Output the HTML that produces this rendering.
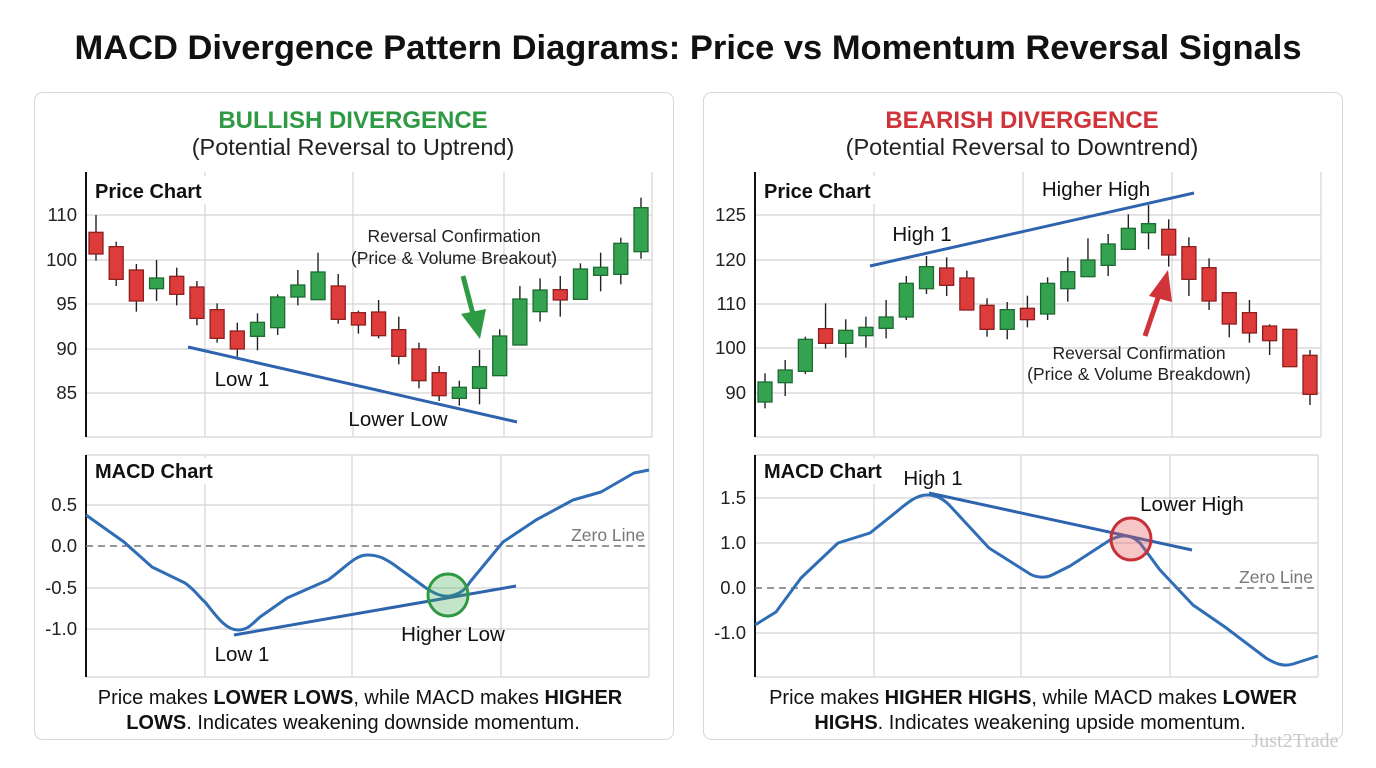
<!DOCTYPE html>
<html><head><meta charset="utf-8"><style>
html,body{margin:0;padding:0;background:#fff;}
svg{display:block;font-family:"Liberation Sans",Arial,sans-serif;}
</style></head><body>
<svg id="s" width="1376" height="768" viewBox="0 0 1376 768" xmlns="http://www.w3.org/2000/svg">
<rect width="1376" height="768" fill="#fff"/>
<text x="688" y="59" text-anchor="middle" font-size="34.5" font-weight="bold" fill="#111">MACD Divergence Pattern Diagrams: Price vs Momentum Reversal Signals</text>
<rect x="34.5" y="92.5" width="639" height="647" rx="8" fill="#fff" stroke="#d8d8d8"/>
<rect x="703.5" y="92.5" width="639" height="647" rx="8" fill="#fff" stroke="#d8d8d8"/>
<text x="353" y="128" text-anchor="middle" font-size="24" font-weight="bold" fill="#2e9a44">BULLISH DIVERGENCE</text>
<text x="353" y="155" text-anchor="middle" font-size="23.5" fill="#222">(Potential Reversal to Uptrend)</text>
<text x="1022" y="128" text-anchor="middle" font-size="24" font-weight="bold" fill="#d0343a">BEARISH DIVERGENCE</text>
<text x="1022" y="155" text-anchor="middle" font-size="23.5" fill="#222">(Potential Reversal to Downtrend)</text>

<g stroke="#d4d4d4" stroke-width="1.2">
<line x1="86" y1="215" x2="652" y2="215"/><line x1="86" y1="260" x2="652" y2="260"/><line x1="86" y1="304" x2="652" y2="304"/><line x1="86" y1="349" x2="652" y2="349"/><line x1="86" y1="393" x2="652" y2="393"/><line x1="86" y1="437" x2="652" y2="437"/>
<line x1="205" y1="172" x2="205" y2="437"/><line x1="353" y1="172" x2="353" y2="437"/><line x1="504" y1="172" x2="504" y2="437"/><line x1="652" y1="172" x2="652" y2="437"/>
<line x1="86" y1="455" x2="649" y2="455"/><line x1="86" y1="505" x2="649" y2="505"/><line x1="86" y1="588" x2="649" y2="588"/><line x1="86" y1="629" x2="649" y2="629"/><line x1="86" y1="677" x2="649" y2="677"/>
<line x1="205" y1="455" x2="205" y2="677"/><line x1="352" y1="455" x2="352" y2="677"/><line x1="501" y1="455" x2="501" y2="677"/><line x1="649" y1="455" x2="649" y2="677"/>
<line x1="755" y1="215" x2="1321" y2="215"/><line x1="755" y1="260" x2="1321" y2="260"/><line x1="755" y1="304" x2="1321" y2="304"/><line x1="755" y1="348" x2="1321" y2="348"/><line x1="755" y1="393" x2="1321" y2="393"/><line x1="755" y1="437" x2="1321" y2="437"/>
<line x1="874" y1="172" x2="874" y2="437"/><line x1="1023" y1="172" x2="1023" y2="437"/><line x1="1172" y1="172" x2="1172" y2="437"/><line x1="1321" y1="172" x2="1321" y2="437"/>
<line x1="755" y1="455" x2="1318" y2="455"/><line x1="755" y1="498" x2="1318" y2="498"/><line x1="755" y1="543" x2="1318" y2="543"/><line x1="755" y1="633" x2="1318" y2="633"/><line x1="755" y1="677" x2="1318" y2="677"/>
<line x1="874" y1="455" x2="874" y2="677"/><line x1="1021" y1="455" x2="1021" y2="677"/><line x1="1170" y1="455" x2="1170" y2="677"/><line x1="1318" y1="455" x2="1318" y2="677"/>
</g>
<g stroke="#111" stroke-width="2">
<line x1="86" y1="172" x2="86" y2="437"/><line x1="86" y1="455" x2="86" y2="677"/>
<line x1="755" y1="172" x2="755" y2="437"/><line x1="755" y1="455" x2="755" y2="677"/>
</g>
<g stroke="#777" stroke-width="1.6" stroke-dasharray="7,5">
<line x1="86" y1="546" x2="649" y2="546"/><line x1="755" y1="588" x2="1318" y2="588"/>
</g>
<g font-size="18.5" fill="#222" text-anchor="end">
<text x="77" y="221">110</text><text x="77" y="266">100</text><text x="77" y="310">95</text><text x="77" y="355">90</text><text x="77" y="399">85</text>
<text x="77" y="511">0.5</text><text x="77" y="552">0.0</text><text x="77" y="594">-0.5</text><text x="77" y="635">-1.0</text>
<text x="746" y="221">125</text><text x="746" y="266">120</text><text x="746" y="310">110</text><text x="746" y="354">100</text><text x="746" y="399">90</text>
<text x="746" y="504">1.5</text><text x="746" y="549">1.0</text><text x="746" y="594">0.0</text><text x="746" y="639">-1.0</text>
</g>
<g font-size="20" fill="#111" font-weight="bold">
<rect x="90" y="176" width="118" height="28" fill="#fff"/>
<text x="95" y="198">Price Chart</text>
<rect x="90" y="458" width="128" height="26" fill="#fff"/>
<text x="95" y="478">MACD Chart</text>
<rect x="759" y="176" width="118" height="28" fill="#fff"/>
<text x="764" y="198">Price Chart</text>
<rect x="759" y="458" width="128" height="26" fill="#fff"/>
<text x="764" y="478">MACD Chart</text>
</g>
<g id="cl"></g><g id="cr"></g>

<line x1="188" y1="347" x2="517" y2="422" stroke="#2f63ad" stroke-width="3"/>
<line x1="870" y1="266" x2="1194" y2="193" stroke="#2f63ad" stroke-width="3"/>
<g font-size="20.5" fill="#111" text-anchor="middle">
<text x="242" y="386">Low 1</text><text x="398" y="426">Lower Low</text>
<text x="922" y="241">High 1</text><text x="1096" y="196">Higher High</text>
<text x="242" y="661">Low 1</text><text x="453" y="641">Higher Low</text>
<text x="933" y="485">High 1</text><text x="1192" y="511">Lower High</text>
</g>
<g font-size="17.5" fill="#222" text-anchor="middle">
<text x="454" y="242">Reversal Confirmation</text><text x="454" y="264">(Price &amp; Volume Breakout)</text>
<text x="1139" y="359">Reversal Confirmation</text><text x="1139" y="380">(Price &amp; Volume Breakdown)</text>
</g>
<text x="645" y="541" font-size="17.5" fill="#777" text-anchor="end">Zero Line</text>
<text x="1313" y="583" font-size="17.5" fill="#777" text-anchor="end">Zero Line</text>
<line x1="463" y1="276" x2="474" y2="318" stroke="#2e9a44" stroke-width="5"/>
<polygon points="461,314 486,309 480,339" fill="#2e9a44"/>
<line x1="1145" y1="336" x2="1160" y2="292" stroke="#d0343a" stroke-width="5"/>
<polygon points="1149,296 1172,302 1168,270" fill="#d0343a"/>

<path d="M86,515 L124,542 L152,567 L185,583 C195,590 200,598 205,602 C215,614 225,630 238,630 C248,630 252,624 260,617 L287,598 L328,580 C345,568 355,555 367,555 C378,555 384,558 393,564 L426,588 C435,594 442,597 450,596 C460,594 465,590 470,582 L503,542 L536,520 L573,500 L601,492 L634,473 L649,470" fill="none" stroke="#2f6db5" stroke-width="3" stroke-linejoin="round"/>
<line x1="234" y1="635" x2="516" y2="586" stroke="#2f63ad" stroke-width="3"/>
<ellipse cx="448" cy="595" rx="20" ry="21" fill="rgba(60,170,80,0.3)" stroke="#2e9a44" stroke-width="3"/>

<path d="M755,625 L776,612 L801,578 L838,543 L870,533 L895,513 C905,505 915,495 927,495 C937,495 944,499 952,508 L989,548 L1030,574 C1037,578 1046,578 1052,575 L1070,566 L1110,540 C1120,535 1130,533 1140,543 L1160,570 L1193,605 L1225,627 L1266,658 C1276,664 1284,667 1293,664 L1318,656" fill="none" stroke="#2f6db5" stroke-width="3" stroke-linejoin="round"/>
<line x1="929" y1="493" x2="1192" y2="550" stroke="#2f63ad" stroke-width="3"/>
<ellipse cx="1131" cy="539" rx="20" ry="21" fill="rgba(230,90,90,0.35)" stroke="#c83038" stroke-width="3"/>

<g font-size="20" fill="#111" text-anchor="middle">
<text x="360" y="704">Price makes <tspan font-weight="bold">LOWER LOWS</tspan>, while MACD makes <tspan font-weight="bold">HIGHER</tspan></text>
<text x="353" y="729"><tspan font-weight="bold">LOWS</tspan>. Indicates weakening downside momentum.</text>
<text x="1033" y="704">Price makes <tspan font-weight="bold">HIGHER HIGHS</tspan>, while MACD makes <tspan font-weight="bold">LOWER</tspan></text>
<text x="1030" y="729"><tspan font-weight="bold">HIGHS</tspan>. Indicates weakening upside momentum.</text>
</g>
<text x="1295" y="747" font-size="20" fill="#c8c8c8" text-anchor="middle" font-family="Liberation Serif,serif">Just2Trade</text>
</svg>
<script>
var L=[["R",135,187,252,272],["R",215,230,328,348],["R",282,300,393,425],["G",270,324,356,393],["R",293,319,373,406],["R",333,351,445,466],["R",400,419,505,518],["R",458,483,537,560],["G",430,457,499,541],["G",373,381,473,495],["G",300,345,381,406],["G",248,306,389,389],["R",312,348,448,461],["R",422,428,465,491],["R",390,426,497,505],["R",440,479,559,583],["R",518,537,632,655],["R",588,608,677,693],["G",632,652,685,707],["G",540,590,655,703],["G",478,498,617,617],["G",348,387,525,525],["G",325,360,425,455],["R",318,359,390,440],["G",280,297,388,388],["G",248,292,316,364],["G",203,220,313,343],["G",83,113,245,266]];
var R=[["G",610,636,696,715],["G",570,600,638,678],["G",500,508,604,612],["R",400,476,520,536],["G",448,481,520,563],["G",440,472,497,533],["G",390,441,475,505],["G",318,340,441,450],["G",258,290,356,372],["R",262,294,346,378],["R",302,324,420,420],["R",385,406,478,500],["G",396,419,478,508],["R",377,415,449,472],["G",322,340,432,450],["G",262,305,356,395],["G",205,270,320,320],["G",192,222,286,318],["G",133,175,238,238],["G",105,161,188,238],["R",148,178,255,290],["R",202,230,328,378],["R",265,293,393,420],["R",368,368,462,502],["R",390,428,489,518],["R",463,468,512,555],["R",478,478,590,590],["R",540,556,673,705]];
function draw(id,d,x0,x1){var g=document.getElementById(id),h="",n=d.length,sp=(x1-x0)/(n-1);
for(var i=0;i<n;i++){var c=d[i],x=x0+i*sp,f=c[0]=="G"?"#34a350":"#de3b3b",s=c[0]=="G"?"#1d6b31":"#8e1f1f";
var y=function(v){return 170+v/3;};
h+='<line x1="'+x+'" y1="'+y(c[1])+'" x2="'+x+'" y2="'+y(c[4])+'" stroke="#222" stroke-width="1.4"/>';
h+='<rect x="'+(x-7)+'" y="'+y(c[2])+'" width="14" height="'+Math.max(2,(c[3]-c[2])/3)+'" fill="'+f+'" stroke="'+s+'" stroke-width="1.3"/>';}
g.innerHTML=h;}
draw("cl",L,96,641);draw("cr",R,765,1310);
</script>
</body></html>
